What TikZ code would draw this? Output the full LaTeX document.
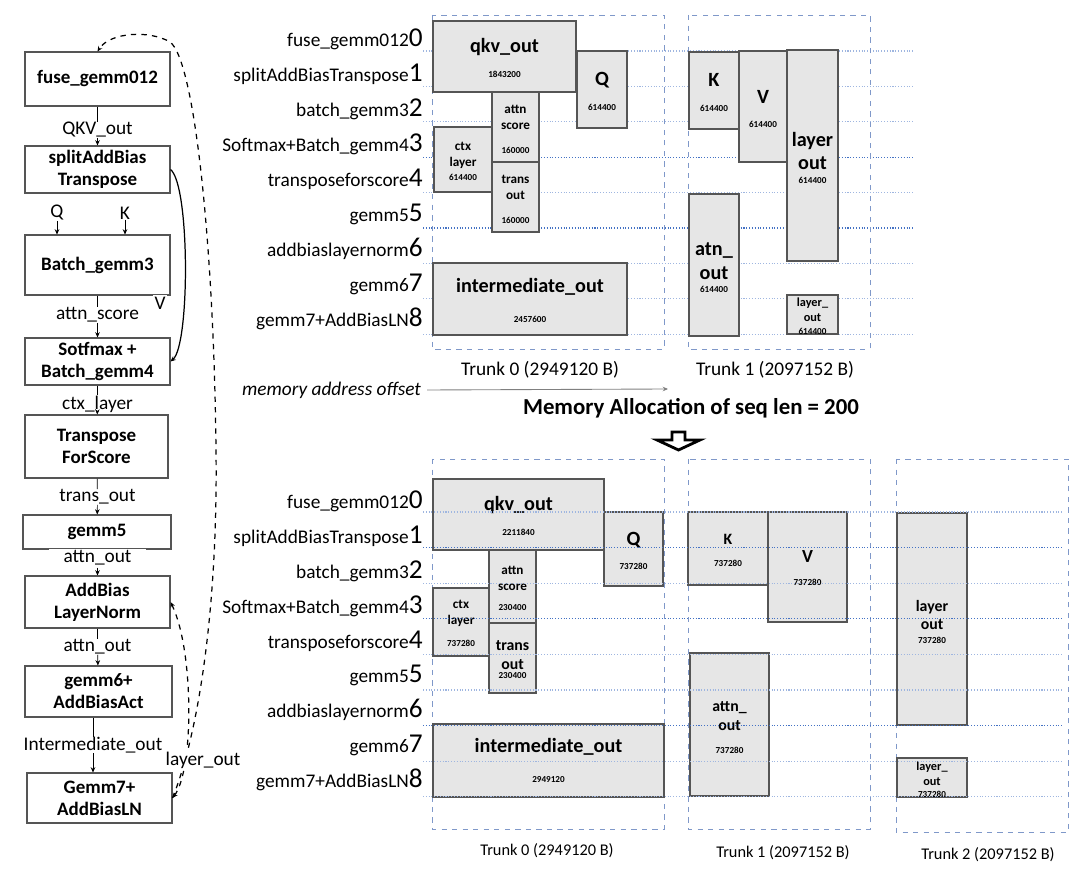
\documentclass[tikz,border=0pt]{standalone}
\usepackage{fontspec}
\setmainfont{Carlito}
\usetikzlibrary{arrows.meta}
\definecolor{gridlt}{HTML}{9FB6E0}
\definecolor{griddk}{HTML}{4472C4}
\definecolor{trunkc}{HTML}{7F98C9}
\definecolor{boxfill}{HTML}{E6E6E6}
\definecolor{boxline}{HTML}{555555}
\newcommand\bigd{\fontsize{15.5}{15.5}\selectfont}

\begin{document}
\begin{tikzpicture}[x=0.02cm,y=-0.02cm,>={Stealth[length=3pt,width=2.6pt]},
  flow/.style={draw=boxline,line width=0.6pt,fill=white,align=center,inner sep=0pt,
    minimum width=2.9cm,font=\bfseries\fontsize{10.8}{12.5}\selectfont},
  elbl/.style={fill=white,inner sep=0pt,font=\fontsize{11}{12}\selectfont},
  rowlbl/.style={anchor=base east,inner sep=0pt,font=\fontsize{11}{12}\selectfont},
  gridln/.style={densely dotted,line width=0.6pt},
  trunk/.style={draw=trunkc,dashed,line width=0.5pt},
  membox/.style={draw=boxline,fill=boxfill,line width=0.7pt},
  mbig/.style={align=center,inner sep=0pt,font=\bfseries\fontsize{11.5}{13.6}\selectfont},
  mmid/.style={align=center,inner sep=0pt,font=\bfseries\fontsize{9}{10.5}\selectfont},
  msml/.style={align=center,inner sep=0pt,font=\bfseries\fontsize{7.5}{9}\selectfont},
  mnum/.style={inner sep=0pt,font=\bfseries\fontsize{5.2}{6}\selectfont}]
\useasboundingbox (0,0) rectangle (1080,881);

% layer flow
\node[flow,minimum height=1.08cm] (f1) at (97.5,79) {fuse\_gemm012};
\node[flow,minimum height=0.94cm] (f2) at (97.5,169.5) {splitAddBias\\Transpose};
\node[flow,minimum height=1.2cm] (f3) at (97.5,265) {Batch\_gemm3};
\node[flow,minimum height=0.94cm] (f4) at (97.5,361.5) {Sotfmax +\\Batch\_gemm4};
\node[flow,minimum height=1.26cm,minimum width=2.86cm] (f5) at (96.5,446.5) {Transpose\\ForScore};
\node[flow,minimum height=0.68cm,minimum width=2.96cm] (f6) at (97,532) {gemm5};
\node[flow,minimum height=1.04cm] (f7) at (97.5,602) {AddBias\\LayerNorm};
\node[flow,minimum height=1.02cm,minimum width=2.94cm] (f8) at (98.5,691.5) {gemm6+\\AddBiasAct};
\node[flow,minimum height=1.0cm] (f9) at (99.5,798) {Gemm7+\\AddBiasLN};

\draw[->,line width=0.7pt] (f2.east) .. controls (190,185) and (190,345) .. (f4.east);
\draw[<->,dashed,line width=0.7pt] (f9.east) .. controls (194,770) and (194,650) .. (f7.east);
\draw[->,dashed,line width=0.7pt] (f9.east) .. controls (200,730) and (218,600) .. (216,450)
  .. controls (214,250) and (195,60) .. (170,42) .. controls (150,30) and (110,32) .. (f1.north);

\node[elbl] (e1) at (97.5,130) {QKV\_out};
\node[elbl] (eq) at (57,213) {Q};
\node[elbl] (ek) at (125,213) {K};
\node[elbl,inner sep=1pt] (ev) at (160,303) {V};
\node[elbl] (e2) at (97.5,315) {attn\_score};
\node[elbl] (e3) at (97.5,404) {ctx\_layer};
\node[elbl] (e4) at (97.5,497) {trans\_out};
\node[elbl,inner xsep=0.3cm,inner ysep=1pt] (e5) at (97.5,558) {attn\_out};
\node[elbl] (e6) at (97.5,647) {attn\_out};
\node[elbl] (e7) at (93,745) {Intermediate\_out};
\node[elbl,inner sep=1pt] (e8) at (203,760) {layer\_out};

\draw (f1) -- (e1); \draw[->] (e1) -- (f2);
\draw[->] (eq) -- (eq |- f3.north);
\draw[->] (ek) -- (ek |- f3.north);
\draw (f3) -- (e2); \draw[->] (e2) -- (f4);
\draw (f4) -- (e3); \draw[->] (e3) -- (f5);
\draw (f5) -- (e4); \draw[->] (e4) -- (f6);
\draw[->] (e5) -- (f7);
\draw (f7) -- (e6); \draw[->] (e6) -- (f8);
\draw (f8.south -| e7) -- (e7); \draw[->] (e7) -- (e7 |- f9.north);

% seq len 200
\foreach \i/\c in {0/gridlt,1/gridlt,2/gridlt,3/griddk,4/gridlt,5/griddk,6/gridlt,7/gridlt,8/gridlt}
  \draw[gridln,\c] (423,{51+35.4*\i}) -- (913,{51+35.4*\i});
\foreach \lab [count=\i from 0] in {fuse\_gemm012,splitAddBiasTranspose,batch\_gemm3,Softmax+Batch\_gemm4,transposeforscore,gemm5,addbiaslayernorm,gemm6,gemm7+AddBiasLN}
  \node[rowlbl] (rt\i) at (423,{47+35*\i}) {\lab{\bigd\i}};
\draw[trunk] (432,15) rectangle (664,349);
\draw[trunk] (688,15) rectangle (870,349);

\draw[membox] (433,21) rectangle (576,92);
\node[mbig] (qkvA) at (504.5,47) {qkv\_out};
\node[mnum] (qkvAn) at (504.5,74) {1843200};
\draw[membox] (577,51) rectangle (627,128);
\node[mbig] (qA) at (602,80) {Q};
\node[mnum] (qAn) at (602,107) {614400};
\draw[membox] (492,92) rectangle (539,162);
\node[msml] (scA) at (515.5,117) {attn\\score};
\node[mnum] (scAn) at (515.5,150) {160000};
\draw[membox] (434,127) rectangle (492,192);
\node[msml] (ctxA) at (463,155) {ctx\\layer};
\node[mnum] (ctxAn) at (463,177) {614400};
\draw[membox] (492,162) rectangle (539,232);
\node[msml] (trA) at (515.5,187) {trans\\out};
\node[mnum] (trAn) at (515.5,220) {160000};
\draw[membox] (433,263) rectangle (627,335);
\node[mbig] (imA) at (530,287) {intermediate\_out};
\node[mnum] (imAn) at (530,319) {2457600};
\draw[membox] (689,52) rectangle (739,129);
\node[mbig] (kA) at (714,80) {K};
\node[mnum] (kAn) at (714,108) {614400};
\draw[membox] (739,51) rectangle (787,162);
\node[mbig] (vA) at (763,97) {V};
\node[mnum] (vAn) at (763,124) {614400};
\draw[membox] (787,50) rectangle (838,261);
\node[mbig] (loA) at (812.5,151) {layer\\out};
\node[mnum] (loAn) at (812.5,180) {614400};
\draw[membox] (689,194) rectangle (739,336);
\node[mbig] (aoA) at (714,261.5) {atn\_\\out};
\node[mnum] (aoAn) at (714,289) {614400};
\draw[membox] (787,295) rectangle (838,334);
\node[msml,font=\bfseries\fontsize{7}{8.5}\selectfont] (lsA) at (812.5,310) {layer\_\\out};
\node[mnum] (lsAn) at (812.5,331) {614400};

\node[font=\fontsize{11}{12}\selectfont] (tA0) at (540,370) {Trunk 0 (2949120 B)};
\node[font=\fontsize{11}{12}\selectfont] (tA1) at (775,370) {Trunk 1 (2097152 B)};
\node[anchor=east,inner sep=1pt,font=\itshape\fontsize{11}{12}\selectfont] (mao) at (423,390) {memory address offset};
\coordinate (maoend) at (668,389);
\draw[->,gray,line width=0.5pt] (mao.east) ++(4,0) -- (maoend);
\node[font=\bfseries\fontsize{13}{14}\selectfont] (title) at (691,408) {Memory Allocation of seq len = 200};
\draw[line width=1.6pt,fill=white,line join=miter] (672,432) -- (685,432) -- (685,440) -- (700,440)
  -- (678.5,450) -- (657,440) -- (672,440) -- cycle;

% larger seq len
\draw[trunk] (432,459) rectangle (664,829);
\draw[trunk] (688,459) rectangle (870,829);
\draw[trunk] (896,459) rectangle (1068,832);

\draw[membox] (433,479) rectangle (604,550);
\node[mbig] (qkvB) at (518.5,505) {qkv\_out};
\node[mnum] (qkvBn) at (518.5,532) {2211840};
\draw[membox] (604,512) rectangle (663,586);
\node[mbig] (qB) at (633.5,540) {Q};
\node[mnum] (qBn) at (633.5,566) {737280};
\draw[membox] (489,550) rectangle (536,623);
\node[msml] (scB) at (512.5,578) {attn\\score};
\node[mnum] (scBn) at (512.5,608) {230400};
\draw[membox] (433,588) rectangle (489,656);
\node[msml] (ctxB) at (461,613) {ctx\\layer};
\node[mnum] (ctxBn) at (461,643) {737280};
\draw[membox] (489,623) rectangle (536,693);
\node[mmid] (trB) at (512.5,655) {trans\\out};
\node[mnum] (trBn) at (512.5,676) {230400};
\draw[membox] (433,724) rectangle (664,797);
\node[mbig] (imB) at (548.5,747) {intermediate\_out};
\node[mnum] (imBn) at (548.5,780) {2949120};
\draw[membox] (688,512) rectangle (768,585);
\node[mmid] (kB) at (728,539) {K};
\node[mnum] (kBn) at (728,563) {737280};
\draw[membox] (768,512) rectangle (847,622);
\node[mmid,font=\bfseries\fontsize{10.5}{12}\selectfont] (vB) at (807.5,557) {V};
\node[mnum] (vBn) at (807.5,582) {737280};
\draw[membox] (690,653) rectangle (769,796);
\node[mmid] (aoB) at (729.5,716) {attn\_\\out};
\node[mnum] (aoBn) at (729.5,750) {737280};
\draw[membox] (897,513) rectangle (967,725);
\node[mmid] (loB) at (932,615) {layer\\out};
\node[mnum] (loBn) at (932,640) {737280};
\draw[membox] (897,758) rectangle (967,797);
\node[msml,font=\bfseries\fontsize{7}{8.5}\selectfont] (lsB) at (932,774) {layer\_\\out};
\node[mnum] (lsBn) at (932,794) {737280};

\foreach \i/\c in {0/gridlt,1/griddk,2/gridlt,3/griddk,4/gridlt,5/gridlt,6/griddk,7/gridlt,8/gridlt}
  \draw[gridln,\c] (423,{512+35.6*\i}) -- (1062,{512+35.6*\i});
\foreach \lab [count=\i from 0] in {fuse\_gemm012,splitAddBiasTranspose,batch\_gemm3,Softmax+Batch\_gemm4,transposeforscore,gemm5,addbiaslayernorm,gemm6,gemm7+AddBiasLN}
  \node[rowlbl] (rb\i) at (423,{509+34.8*\i}) {\lab{\bigd\i}};

\node[font=\fontsize{9.3}{10}\selectfont] (tB0) at (547,851) {Trunk 0 (2949120 B)};
\node[font=\fontsize{9.3}{10}\selectfont] (tB1) at (783,853) {Trunk 1 (2097152 B)};
\node[font=\fontsize{9.3}{10}\selectfont] (tB2) at (988,855) {Trunk 2 (2097152 B)};
\end{tikzpicture}
\end{document}
